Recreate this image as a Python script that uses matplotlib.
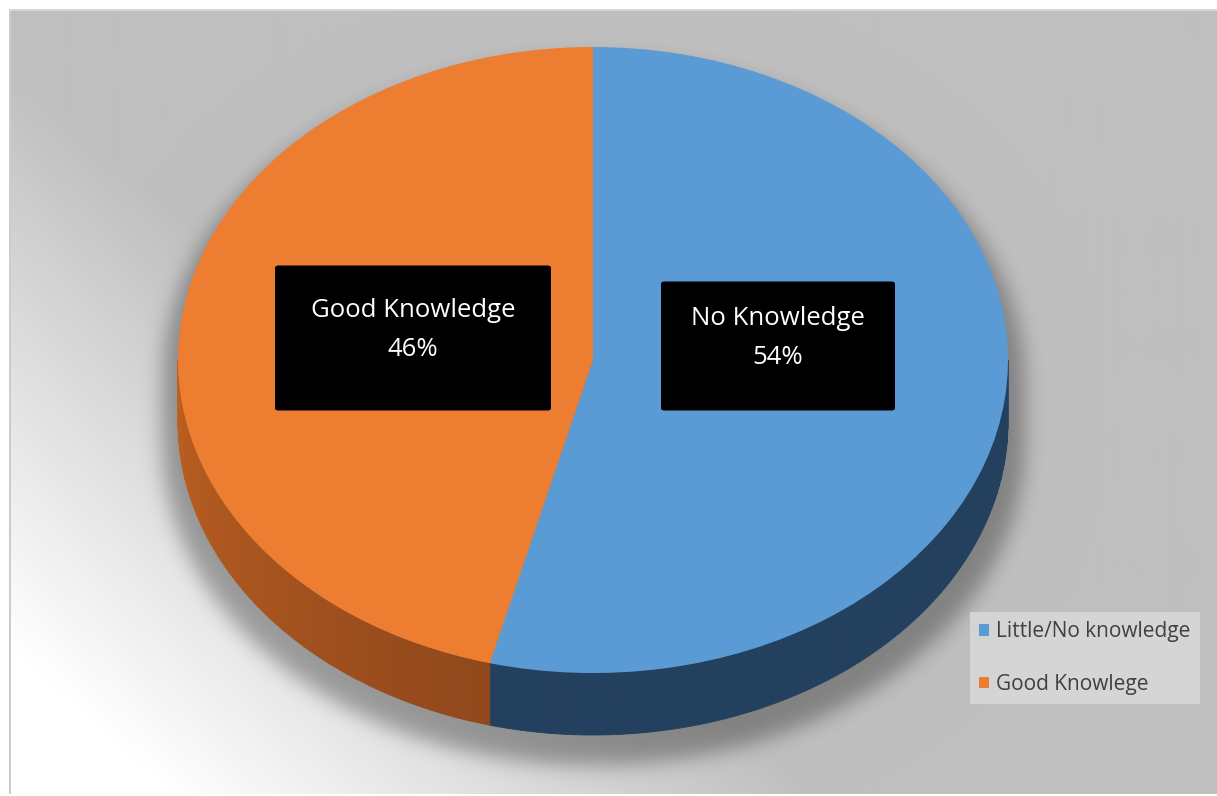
import numpy as np
import matplotlib
matplotlib.use("Agg")
import matplotlib.pyplot as plt
from matplotlib.patches import Polygon, FancyBboxPatch
from matplotlib.colors import to_rgb

# survey result: share of respondents by knowledge level
categories = ["Little/No knowledge", "Good Knowlege"]
box_labels = ["No Knowledge", "Good Knowledge"]
shares = [54, 46]
top_colors = ["#5B9BD5", "#ED7D31"]
# side wall colour at the left edge (180 deg) and at the front (270 deg)
side_colors = [("#23405E", "#23405E"), ("#BE6022", "#87431A")]

W, H = 1217, 796
cx, cy, rx, ry, depth = 593, 360, 415, 313, 62


def px(x, y):
    # pixel position -> pie units (unit circle squashed into the ellipse)
    return (x - cx) / rx, (cy - y) / ry


def blur(a, sigma):
    pad = int(3 * sigma)
    p = np.pad(a, pad, mode="edge")
    fy = np.fft.fftfreq(p.shape[0])[:, None]
    fx = np.fft.fftfreq(p.shape[1])[None, :]
    g = np.exp(-2 * (np.pi * sigma) ** 2 * (fx ** 2 + fy ** 2))
    out = np.real(np.fft.ifft2(np.fft.fft2(p) * g))
    return out[pad:-pad, pad:-pad]


fig = plt.figure(figsize=(W / 100, H / 100), dpi=100)
ax = fig.add_axes([0, 0, 1, 1])
xlim = (-cx / rx, (W - cx) / rx)
ylim = ((cy - H) / ry, cy / ry)

# background: diagonal grey->white gradient plus soft shadow under the pie
yy, xx = np.mgrid[0:H, 0:W].astype(float)
shade = np.clip(185 + 0.11 * yy - 0.1 * xx, 191, 255) / 255
s = np.sqrt(np.clip(1 - ((xx - cx) / (rx + 16)) ** 2, 0, None))
inside = (np.abs(xx - cx) <= rx + 16) & (yy >= cy + 20 - (ry + 8) * s) & \
         (yy <= cy + 22 + depth + (ry + 8) * s)
shadow = blur(inside.astype(float), 10)
shade = shade * (1 - 0.32 * shadow)

img = np.ones((H, W, 3))
img[9:794, 9:, :] = shade[9:794, 9:, None]
img[9:794, 9:11, :] = 0.80
img[9:11, 9:, :] = 0.84
ax.imshow(img, extent=(xlim[0], xlim[1], ylim[0], ylim[1]), origin="upper",
          aspect="auto", interpolation="bilinear", zorder=0)

# top face of the pie
wedges, _ = ax.pie(shares, colors=top_colors, startangle=90, counterclock=False,
                   radius=1, center=(0, 0), frame=True,
                   wedgeprops=dict(linewidth=0, zorder=3))

# side walls on the front half of the pie
d = depth / ry
for w, (c0, c1) in zip(wedges, side_colors):
    for k in (-360, 0, 360):
        a = max(w.theta1 + k, 180)
        b = min(w.theta2 + k, 360)
        if b <= a:
            continue
        edges = np.linspace(a, b, 80)
        for e0, e1 in zip(edges[:-1], edges[1:]):
            t = np.clip(((e0 + e1) / 2 - 180) / 90, 0, 1)
            col = (1 - t) * np.array(to_rgb(c0)) + t * np.array(to_rgb(c1))
            ang = np.radians(np.linspace(e0, e1, 4))
            top = np.column_stack([np.cos(ang), np.sin(ang)])
            bot = top[::-1] - [0, d]
            ax.add_patch(Polygon(np.vstack([top, bot]), closed=True,
                                 facecolor=col, edgecolor=col, linewidth=0.6,
                                 zorder=2))

# black callout boxes with name and percentage
box_centers = [(778, 346), (413, 338)]
box_sizes = [(234, 129), (276, 145)]
text_y = [338, 330]
for (bx, by), (bw, bh), ty, name, val in zip(box_centers, box_sizes, text_y,
                                            box_labels, shares):
    x0, y0 = px(bx - bw / 2, by + bh / 2)
    ax.add_patch(FancyBboxPatch((x0, y0), bw / rx, bh / ry,
                                boxstyle="round,pad=0,rounding_size=0.008",
                                facecolor="black", edgecolor="none", zorder=5))
    tx, tyd = px(bx, ty)
    ax.text(tx, tyd, f"{name}\n{val}%", ha="center", va="center",
            color="white", fontsize=18.5, family="Open Sans", linespacing=1.72,
            zorder=6)

leg = ax.legend(wedges, categories, loc="upper left",
                bbox_to_anchor=(970 / W, 1 - 612 / H),
                bbox_transform=fig.transFigure, frameon=True, fancybox=False,
                prop=dict(family="Open Sans", size=15), handlelength=0.45,
                handleheight=0.45, handletextpad=0.35, labelspacing=1.5,
                borderpad=0.45, borderaxespad=0)
leg.get_frame().set_facecolor("#D9D9D9")
leg.get_frame().set_edgecolor("none")
leg.get_frame().set_alpha(0.85)
for t in leg.get_texts():
    t.set_color("#404040")

ax.set_xlim(xlim)
ax.set_ylim(ylim)
ax.set_aspect("auto")
ax.axis("off")

fig.savefig("out.png", dpi=100)
